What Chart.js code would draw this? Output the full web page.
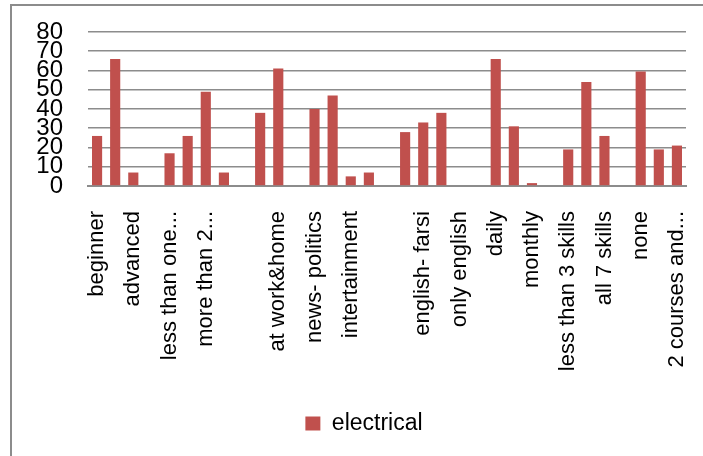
<!DOCTYPE html>
<html>
<head>
<meta charset="utf-8">
<script src="https://cdn.jsdelivr.net/npm/chart.js@4"></script>
<style>
  html, body { margin: 0; padding: 0; background: #fff; }
  #wrap { position: relative; width: 703px; height: 456px; overflow: hidden; }
  #frame { position: absolute; left: 10px; top: 4px; width: 720px; height: 480px; border: 2px solid #8c8c8c; box-sizing: border-box; }
  canvas { position: absolute; left: 0; top: 0; }
</style>
</head>
<body>
<div id="wrap">
  <div id="frame"></div>
  <canvas id="chart" width="703" height="456"></canvas>
</div>
<script>
// only every other label is printed in the original, the rest are blank
const categories = [
  'beginner', '', 'advanced', '', 'less than one...', '', 'more than 2...', '',
  '', '', 'at work&home', '', 'news- politics', '', 'intertainment', '',
  '', '', 'english- farsi', '', 'only english', '', 'daily', '',
  'monthly', '', 'less than 3 skills', '', 'all 7 skills', '', 'none', '',
  '2 courses and...'
];
const electrical = [
  26, 66, 7, 0, 17, 26, 49, 7,
  0, 38, 61, 0, 40, 47, 5, 7,
  0, 28, 33, 38, 0, 0, 66, 31,
  1.5, 0, 19, 54, 26, 0, 59.5, 19,
  21
];
const yTicks = [0, 10, 20, 30, 40, 50, 60, 70, 80];

// move the legend a bit right, it is centred under the whole frame in the original
const shiftLegend = {
  id: 'shiftLegend',
  afterLayout(chart) {
    chart.legend.left += 6;
    chart.legend.right += 6;
  },
};

const ctx = document.getElementById('chart').getContext('2d');
new Chart(ctx, {
  type: 'bar',
  data: {
    labels: categories,
    datasets: [{
      label: 'electrical',
      data: electrical,
      backgroundColor: '#c0504d',
      borderWidth: 0,
      categoryPercentage: 1,
      barPercentage: 0.56,
    }],
  },
  options: {
    responsive: false,
    animation: false,
    layout: { padding: { left: 30, right: 17, top: 32, bottom: 11 } },
    plugins: {
      tooltip: { enabled: false },
      legend: {
        position: 'bottom',
        labels: {
          boxWidth: 15,
          boxHeight: 14,
          padding: 10,
          color: '#000',
          font: { family: 'Liberation Sans', size: 23 },
        },
      },
    },
    scales: {
      x: {
        grid: { display: false },
        border: { display: true, color: '#8c8c8c', width: 2 },
        ticks: {
          autoSkip: false,
          maxRotation: 90,
          minRotation: 90,
          padding: 17,
          color: '#000',
          font: { family: 'Liberation Sans', size: 22 },
        },
        afterFit: (scale) => {
          scale.height = 216;
          scale.paddingLeft = 0;
          scale.paddingRight = 0;
        },
      },
      y: {
        min: 0,
        max: 80,
        afterBuildTicks: (scale) => { scale.ticks = yTicks.map((v) => ({ value: v })); },
        grid: { color: '#8c8c8c', lineWidth: 1.6, drawTicks: false },
        border: { display: false },
        ticks: {
          autoSkip: false,
          padding: 25,
          color: '#000',
          font: { family: "'Liberation Sans Narrow', 'Liberation Sans'", size: 24, lineHeight: 1 },
        },
        afterFit: (scale) => {
          scale.width = 58;
          scale.paddingTop = 0;
          scale.paddingBottom = 0;
        },
      },
    },
  },
  plugins: [shiftLegend],
});
</script>
</body>
</html>
